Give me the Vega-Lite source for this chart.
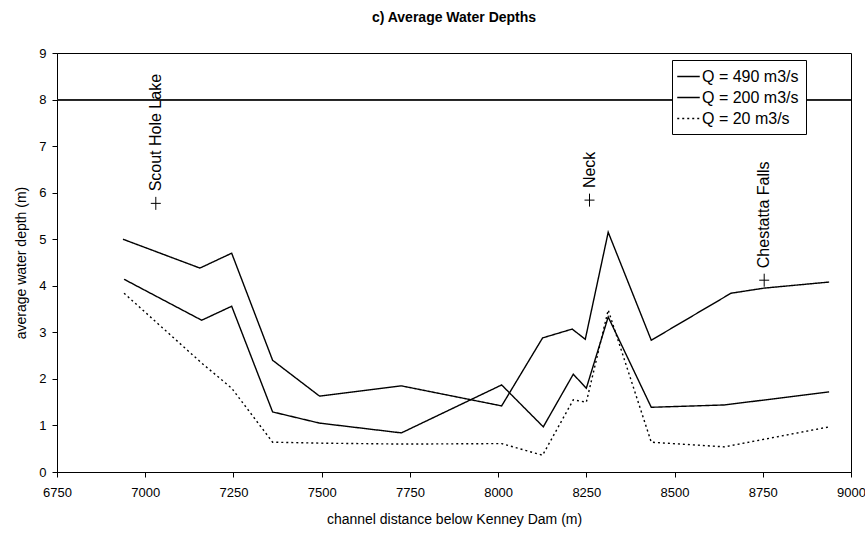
{
  "$schema": "https://vega.github.io/schema/vega-lite/v6.json",
  "width": 794,
  "height": 419,
  "autosize": "none",
  "padding": {"left": 57, "top": 53, "right": 14, "bottom": 65},
  "background": "white",
  "title": {"text": "c)  Average Water Depths", "font": "Liberation Sans", "fontSize": 14, "fontWeight": "bold", "color": "black", "anchor": "middle", "baseline": "bottom", "offset": 8},
  "config": {
    "view": {"stroke": "black", "strokeWidth": 1},
    "axis": {"domainColor": "black", "tickColor": "black", "labelColor": "black", "titleColor": "black", "labelFont": "Liberation Sans", "titleFont": "Liberation Sans", "labelFontSize": 13, "titleFontSize": 14, "titleFontWeight": "normal", "grid": false, "tickSize": 5}
  },
  "datasets": {
    "depths": [
      {"series": "Q = 490 m3/s", "dist": 6937, "depth": 5.0},
      {"series": "Q = 490 m3/s", "dist": 7155, "depth": 4.38},
      {"series": "Q = 490 m3/s", "dist": 7245, "depth": 4.7},
      {"series": "Q = 490 m3/s", "dist": 7361, "depth": 2.4},
      {"series": "Q = 490 m3/s", "dist": 7494, "depth": 1.63},
      {"series": "Q = 490 m3/s", "dist": 7726, "depth": 1.85},
      {"series": "Q = 490 m3/s", "dist": 8010, "depth": 1.42},
      {"series": "Q = 490 m3/s", "dist": 8126, "depth": 2.88},
      {"series": "Q = 490 m3/s", "dist": 8210, "depth": 3.07},
      {"series": "Q = 490 m3/s", "dist": 8247, "depth": 2.85},
      {"series": "Q = 490 m3/s", "dist": 8312, "depth": 5.15},
      {"series": "Q = 490 m3/s", "dist": 8434, "depth": 2.83},
      {"series": "Q = 490 m3/s", "dist": 8660, "depth": 3.84},
      {"series": "Q = 490 m3/s", "dist": 8754, "depth": 3.95},
      {"series": "Q = 490 m3/s", "dist": 8938, "depth": 4.08},
      {"series": "Q = 200 m3/s", "dist": 6940, "depth": 4.14},
      {"series": "Q = 200 m3/s", "dist": 7160, "depth": 3.26},
      {"series": "Q = 200 m3/s", "dist": 7245, "depth": 3.56},
      {"series": "Q = 200 m3/s", "dist": 7361, "depth": 1.29},
      {"series": "Q = 200 m3/s", "dist": 7494, "depth": 1.05},
      {"series": "Q = 200 m3/s", "dist": 7726, "depth": 0.84},
      {"series": "Q = 200 m3/s", "dist": 8010, "depth": 1.87},
      {"series": "Q = 200 m3/s", "dist": 8128, "depth": 0.97},
      {"series": "Q = 200 m3/s", "dist": 8213, "depth": 2.1},
      {"series": "Q = 200 m3/s", "dist": 8250, "depth": 1.8},
      {"series": "Q = 200 m3/s", "dist": 8312, "depth": 3.33},
      {"series": "Q = 200 m3/s", "dist": 8434, "depth": 1.39},
      {"series": "Q = 200 m3/s", "dist": 8641, "depth": 1.44},
      {"series": "Q = 200 m3/s", "dist": 8938, "depth": 1.72},
      {"series": "Q = 20 m3/s", "dist": 6940, "depth": 3.84},
      {"series": "Q = 20 m3/s", "dist": 7160, "depth": 2.34},
      {"series": "Q = 20 m3/s", "dist": 7245, "depth": 1.8},
      {"series": "Q = 20 m3/s", "dist": 7361, "depth": 0.64},
      {"series": "Q = 20 m3/s", "dist": 7494, "depth": 0.62},
      {"series": "Q = 20 m3/s", "dist": 7726, "depth": 0.6},
      {"series": "Q = 20 m3/s", "dist": 8010, "depth": 0.61},
      {"series": "Q = 20 m3/s", "dist": 8126, "depth": 0.36},
      {"series": "Q = 20 m3/s", "dist": 8213, "depth": 1.55},
      {"series": "Q = 20 m3/s", "dist": 8250, "depth": 1.5},
      {"series": "Q = 20 m3/s", "dist": 8312, "depth": 3.48},
      {"series": "Q = 20 m3/s", "dist": 8434, "depth": 0.64},
      {"series": "Q = 20 m3/s", "dist": 8641, "depth": 0.54},
      {"series": "Q = 20 m3/s", "dist": 8938, "depth": 0.97}
    ],
    "landmarks": [
      {"name": "Scout Hole Lake", "dist": 7030, "depth": 5.77},
      {"name": "Neck", "dist": 8259, "depth": 5.84},
      {"name": "Chestatta Falls", "dist": 8754, "depth": 4.12}
    ]
  },
  "layer": [
    {
      "data": {"name": "depths"},
      "mark": {"type": "rule", "color": "#222222", "strokeWidth": 1},
      "encoding": {"y": {"datum": 8, "type": "quantitative"}}
    },
    {
      "data": {"name": "depths"},
      "mark": {"type": "line", "color": "black", "strokeWidth": 1.4},
      "encoding": {
        "x": {"field": "dist", "type": "quantitative", "scale": {"domain": [6750, 9000], "nice": false, "zero": false},
              "axis": {"values": [6750, 7000, 7250, 7500, 7750, 8000, 8250, 8500, 8750, 9000], "format": "d", "labelFlush": false, "labelPadding": 9, "title": "channel distance below Kenney Dam (m)", "titlePadding": 13}},
        "y": {"field": "depth", "type": "quantitative", "scale": {"domain": [0, 9], "nice": false, "zero": true},
              "axis": {"values": [0, 1, 2, 3, 4, 5, 6, 7, 8, 9], "labelPadding": 6, "title": "average water depth (m)", "titlePadding": 10}},
        "strokeDash": {"field": "series", "type": "nominal",
          "scale": {"domain": ["Q = 490 m3/s", "Q = 200 m3/s", "Q = 20 m3/s"], "range": [[1, 0], [1, 0], [2, 3]]},
          "legend": {"title": null, "orient": "none", "legendX": 615, "legendY": 7, "strokeColor": "black", "fillColor": "white", "padding": 7, "labelFont": "Liberation Sans", "labelFontSize": 16, "labelColor": "black", "symbolStrokeColor": "black", "symbolStrokeWidth": 1.4, "symbolType": "M-1.3,0L1.3,0", "symbolSize": 300, "rowPadding": 3, "labelOffset": 4}
        },
        "order": {"field": "dist", "type": "quantitative"}
      }
    },
    {
      "data": {"name": "landmarks"},
      "mark": {"type": "point", "shape": "M-1,0L1,0M0,-1.3L0,1.3", "filled": false, "stroke": "black", "strokeWidth": 1, "size": 100, "opacity": 1},
      "encoding": {
        "x": {"field": "dist", "type": "quantitative"},
        "y": {"field": "depth", "type": "quantitative"}
      }
    },
    {
      "data": {"name": "landmarks"},
      "mark": {"type": "text", "angle": 270, "align": "left", "baseline": "middle", "dx": 12, "font": "Liberation Sans", "fontSize": 16, "color": "black"},
      "encoding": {
        "x": {"field": "dist", "type": "quantitative"},
        "y": {"field": "depth", "type": "quantitative"},
        "text": {"field": "name"}
      }
    }
  ]
}
